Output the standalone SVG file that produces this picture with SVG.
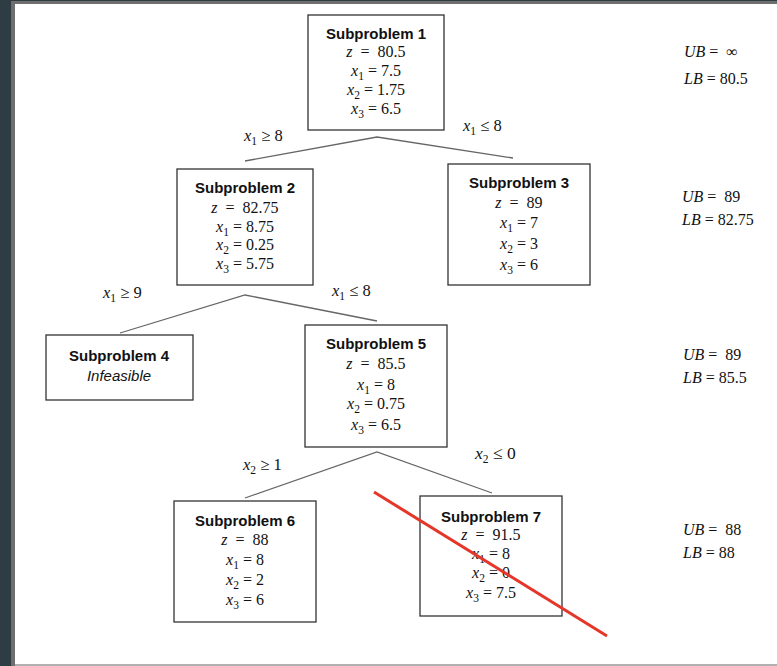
<svg xmlns="http://www.w3.org/2000/svg" width="777" height="666" viewBox="0 0 777 666">
<style>
.box{fill:#fff;stroke:#333;stroke-width:1.3}
.ttl{font-family:"Liberation Sans",Arial,sans-serif;font-weight:bold;font-size:15px;fill:#111;text-anchor:middle}
.inf{font-family:"Liberation Sans",Arial,sans-serif;font-style:italic;font-size:15px;fill:#111;text-anchor:middle}
.t{font-family:"Liberation Serif","Times New Roman",serif;font-size:16px;fill:#111;text-anchor:middle}
.b{font-family:"Liberation Serif","Times New Roman",serif;font-size:16px;fill:#111}
.lbl{font-family:"Liberation Serif","Times New Roman",serif;font-size:16.5px;fill:#111}
.i{font-style:italic}
.s{font-size:11.5px}
.con{stroke:#666;stroke-width:1.3;fill:none}
</style>
<rect x="0" y="0" width="777" height="666" fill="#2e3d44"/>
<rect x="11" y="1" width="766" height="665" fill="#6e6e6e"/>
<rect x="15" y="4" width="762" height="660" fill="#fff"/>
<rect x="15" y="664" width="762" height="2" fill="#b0b0b0"/>

<g id="connectors">
<polyline class="con" points="245,161 377,137 513,158"/>
<polyline class="con" points="120,333 245,295 377,321"/>
<polyline class="con" points="245,498 377,452 492,493"/>
</g>

<g id="labels">
<text class="lbl" x="244" y="141"><tspan class="i">x</tspan><tspan class="s" dy="4">1</tspan><tspan dy="-4"> ≥ 8</tspan></text>
<text class="lbl" x="463" y="131"><tspan class="i">x</tspan><tspan class="s" dy="4">1</tspan><tspan dy="-4"> ≤ 8</tspan></text>
<text class="lbl" x="103" y="298"><tspan class="i">x</tspan><tspan class="s" dy="4">1</tspan><tspan dy="-4"> ≥ 9</tspan></text>
<text class="lbl" x="332" y="296"><tspan class="i">x</tspan><tspan class="s" dy="4">1</tspan><tspan dy="-4"> ≤ 8</tspan></text>
<text class="lbl" x="243" y="470"><tspan class="i">x</tspan><tspan class="s" dy="4">2</tspan><tspan dy="-4"> ≥ 1</tspan></text>
<text class="lbl" x="475" y="459" style="font-size:17.5px"><tspan class="i">x</tspan><tspan class="s" dy="4">2</tspan><tspan dy="-4"> ≤ 0</tspan></text>
</g>

<g id="sp1">
<rect class="box" x="308" y="15" width="136" height="115"/>
<text class="ttl" x="376" y="39">Subproblem 1</text>
<text class="t" x="376" y="57"><tspan class="i">z</tspan>&#160;&#160;=&#160;&#160;80.5</text>
<text class="t" x="376" y="76"><tspan class="i">x</tspan><tspan class="s" dy="4">1</tspan><tspan dy="-4"> = 7.5</tspan></text>
<text class="t" x="376" y="95"><tspan class="i">x</tspan><tspan class="s" dy="4">2</tspan><tspan dy="-4"> = 1.75</tspan></text>
<text class="t" x="376" y="114"><tspan class="i">x</tspan><tspan class="s" dy="4">3</tspan><tspan dy="-4"> = 6.5</tspan></text>
</g>

<g id="sp2">
<rect class="box" x="177" y="169" width="136" height="116"/>
<text class="ttl" x="245" y="193">Subproblem 2</text>
<text class="t" x="245" y="213"><tspan class="i">z</tspan>&#160;&#160;=&#160;&#160;82.75</text>
<text class="t" x="245" y="232"><tspan class="i">x</tspan><tspan class="s" dy="4">1</tspan><tspan dy="-4"> = 8.75</tspan></text>
<text class="t" x="245" y="250"><tspan class="i">x</tspan><tspan class="s" dy="4">2</tspan><tspan dy="-4"> = 0.25</tspan></text>
<text class="t" x="245" y="269"><tspan class="i">x</tspan><tspan class="s" dy="4">3</tspan><tspan dy="-4"> = 5.75</tspan></text>
</g>

<g id="sp3">
<rect class="box" x="448" y="164" width="142" height="121"/>
<text class="ttl" x="519" y="188">Subproblem 3</text>
<text class="t" x="519" y="208"><tspan class="i">z</tspan>&#160;&#160;=&#160;&#160;89</text>
<text class="t" x="519" y="228"><tspan class="i">x</tspan><tspan class="s" dy="4">1</tspan><tspan dy="-4"> = 7</tspan></text>
<text class="t" x="519" y="249"><tspan class="i">x</tspan><tspan class="s" dy="4">2</tspan><tspan dy="-4"> = 3</tspan></text>
<text class="t" x="519" y="270"><tspan class="i">x</tspan><tspan class="s" dy="4">3</tspan><tspan dy="-4"> = 6</tspan></text>
</g>

<g id="sp4">
<rect class="box" x="46" y="335" width="147" height="65"/>
<text class="ttl" x="119" y="361">Subproblem 4</text>
<text class="inf" x="119" y="381">Infeasible</text>
</g>

<g id="sp5">
<rect class="box" x="305" y="325" width="142" height="122"/>
<text class="ttl" x="376" y="349">Subproblem 5</text>
<text class="t" x="376" y="369"><tspan class="i">z</tspan>&#160;&#160;=&#160;&#160;85.5</text>
<text class="t" x="376" y="390"><tspan class="i">x</tspan><tspan class="s" dy="4">1</tspan><tspan dy="-4"> = 8</tspan></text>
<text class="t" x="376" y="409"><tspan class="i">x</tspan><tspan class="s" dy="4">2</tspan><tspan dy="-4"> = 0.75</tspan></text>
<text class="t" x="376" y="430"><tspan class="i">x</tspan><tspan class="s" dy="4">3</tspan><tspan dy="-4"> = 6.5</tspan></text>
</g>

<g id="sp6">
<rect class="box" x="174" y="501" width="142" height="121"/>
<text class="ttl" x="245" y="526">Subproblem 6</text>
<text class="t" x="245" y="545"><tspan class="i">z</tspan>&#160;&#160;=&#160;&#160;88</text>
<text class="t" x="245" y="565"><tspan class="i">x</tspan><tspan class="s" dy="4">1</tspan><tspan dy="-4"> = 8</tspan></text>
<text class="t" x="245" y="585"><tspan class="i">x</tspan><tspan class="s" dy="4">2</tspan><tspan dy="-4"> = 2</tspan></text>
<text class="t" x="245" y="605"><tspan class="i">x</tspan><tspan class="s" dy="4">3</tspan><tspan dy="-4"> = 6</tspan></text>
</g>

<g id="sp7">
<rect class="box" x="420" y="496" width="142" height="120"/>
<text class="ttl" x="491" y="522">Subproblem 7</text>
<text class="t" x="491" y="540"><tspan class="i">z</tspan>&#160;&#160;=&#160;&#160;91.5</text>
<text class="t" x="491" y="559"><tspan class="i">x</tspan><tspan class="s" dy="4">1</tspan><tspan dy="-4"> = 8</tspan></text>
<text class="t" x="491" y="578"><tspan class="i">x</tspan><tspan class="s" dy="4">2</tspan><tspan dy="-4"> = 0</tspan></text>
<text class="t" x="491" y="598"><tspan class="i">x</tspan><tspan class="s" dy="4">3</tspan><tspan dy="-4"> = 7.5</tspan></text>
</g>

<g id="bounds">
<text class="b" x="684" y="57"><tspan class="i">UB</tspan> = &#160;∞</text>
<text class="b" x="684" y="84"><tspan class="i">LB</tspan> = 80.5</text>
<text class="b" x="682" y="202"><tspan class="i">UB</tspan> = &#160;89</text>
<text class="b" x="682" y="225"><tspan class="i">LB</tspan> = 82.75</text>
<text class="b" x="683" y="360"><tspan class="i">UB</tspan> = &#160;89</text>
<text class="b" x="683" y="383"><tspan class="i">LB</tspan> = 85.5</text>
<text class="b" x="683" y="535"><tspan class="i">UB</tspan> = &#160;88</text>
<text class="b" x="683" y="558"><tspan class="i">LB</tspan> = 88</text>
</g>

<line id="cross" x1="374" y1="492" x2="607" y2="636" stroke="#e5362a" stroke-width="3"/>
</svg>
